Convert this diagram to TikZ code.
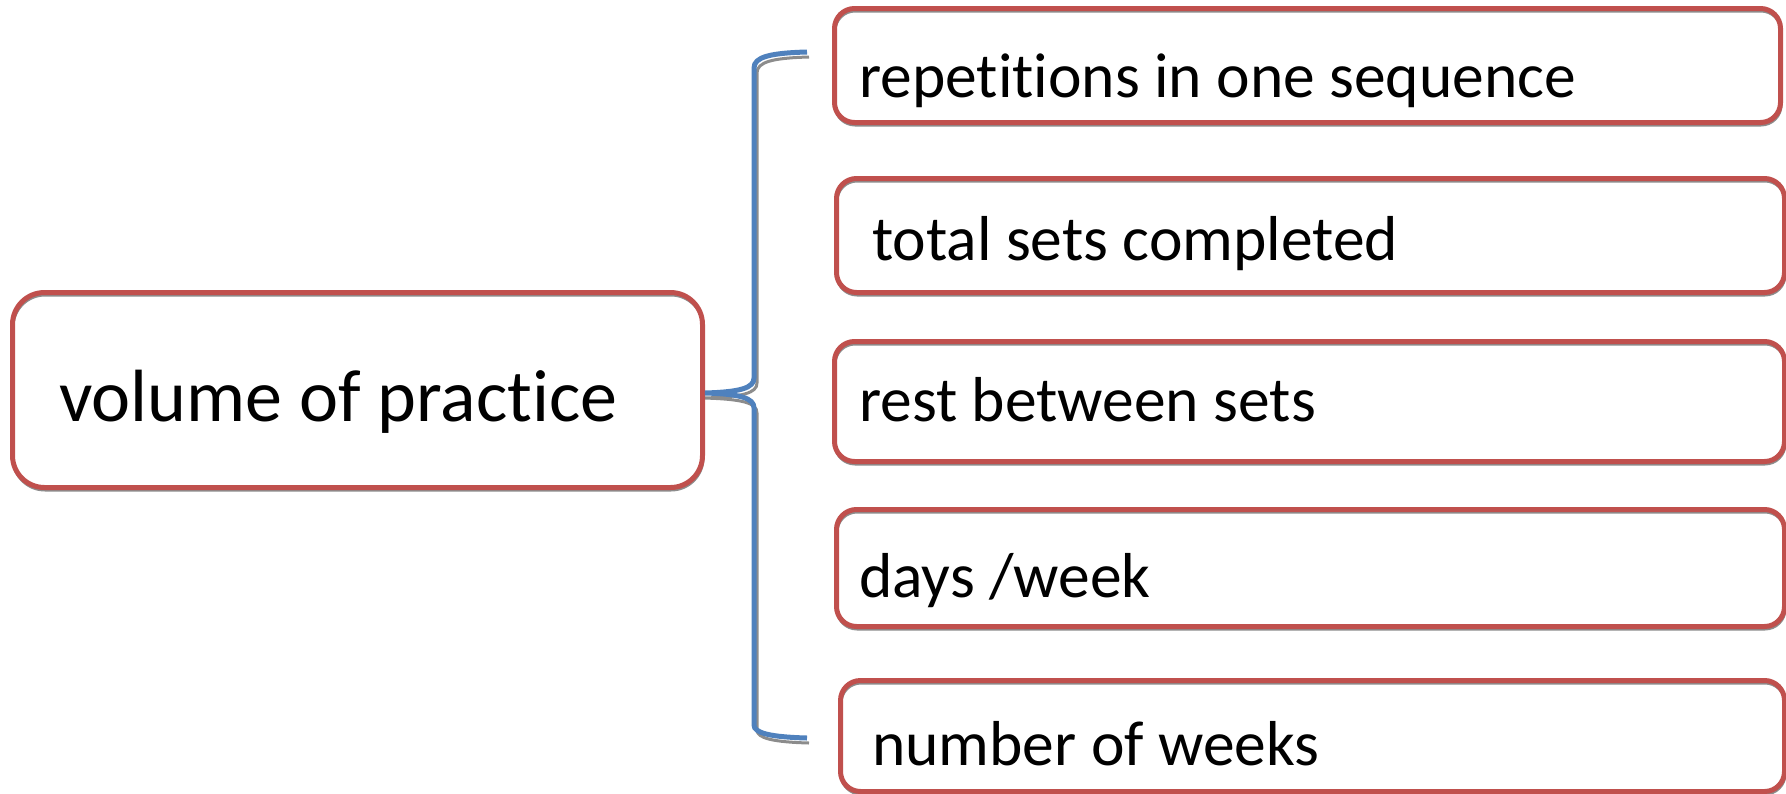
\documentclass[tikz,border=0pt]{standalone}
\usepackage{fontspec}
\setmainfont{Carlito}[Ligatures={NoCommon,NoRequired,NoContextual},Contextuals=NoAlternate]
\definecolor{boxred}{HTML}{C0504D}
\definecolor{braceblue}{HTML}{4F81BD}
\definecolor{shadowgray}{HTML}{8C8C8C}
% keep t and i as separate glyphs
\newcommand{\tisep}{\kern0pt }
\begin{document}
\begin{tikzpicture}[x=1pt,y=-1pt,
  itembox/.style={draw=boxred, line width=5pt, rounded corners=20pt, minimum width=#1, inner sep=0pt, anchor=north west},
  label/.style={anchor=base west, inner sep=0pt, font=\fontsize{63.5}{70}\selectfont},
  bracestyle/.style={draw=braceblue, line width=5pt},
  braceshadow/.style={draw=shadowgray, line width=3pt}]
\useasboundingbox (0,0) rectangle (1786,793);

% soft outlines beneath the boxes
\foreach \x/\y/\w/\h/\r in {10/290/690/195/32, 832/6/946/114/20, 834/176/948/114/20, 832/339/950/120/20, 834/507/948/117/20, 838/678/944/111/20}{
  \draw[draw=shadowgray, line width=3pt, rounded corners=\r pt] (\x+3,\y+5) rectangle ++(\w,\h);
}
\draw[braceshadow] (809,57) .. controls (772,58) and (757,62) .. (757,73) -- (757,383)
  .. controls (757,393) and (743,397) .. (703,398)
  .. controls (743,399) and (757,403) .. (757,413) -- (757,730)
  .. controls (757,738) and (772,742) .. (809,743);

% central box
\node[draw=boxred, line width=5pt, rounded corners=32pt, minimum width=690pt, minimum height=195pt, inner sep=0pt, anchor=north west] (vol) at (10,290) {};
\node[anchor=base west, inner sep=0pt, font=\fontsize{74}{80}\selectfont] (voltext) at (59,421) {volume of pract\tisep ice};

% item boxes
\node[itembox=946pt, minimum height=114pt] (b1) at (832,6) {};
\node[itembox=948pt, minimum height=114pt] (b2) at (834,176) {};
\node[itembox=950pt, minimum height=120pt] (b3) at (832,339) {};
\node[itembox=948pt, minimum height=117pt] (b4) at (834,507) {};
\node[itembox=944pt, minimum height=111pt] (b5) at (838,678) {};

\node[label] (t1) at (859,97) {repet\tisep it\tisep ions in one sequence};
\node[label] (t2) at (872,260) {total sets completed};
\node[label] (t3) at (859,421) {rest between sets};
\node[label] (t4) at (859,597) {days /week};
\node[label] (t5) at (872,765) {number of weeks};

% brace joining the central box to the items
\coordinate (tip) at (vol.east |- 0,393);
\coordinate (btop) at (807,52);
\coordinate (bbot) at (807,738);
\draw[bracestyle] (btop) .. controls (770,53) and (754,57) .. (754,68) -- (754,378)
  .. controls (754,388) and (740,392) .. (tip)
  .. controls (740,394) and (754,398) .. (754,408) -- (754,725)
  .. controls (754,733) and (770,737) .. (bbot);
\end{tikzpicture}
\end{document}
